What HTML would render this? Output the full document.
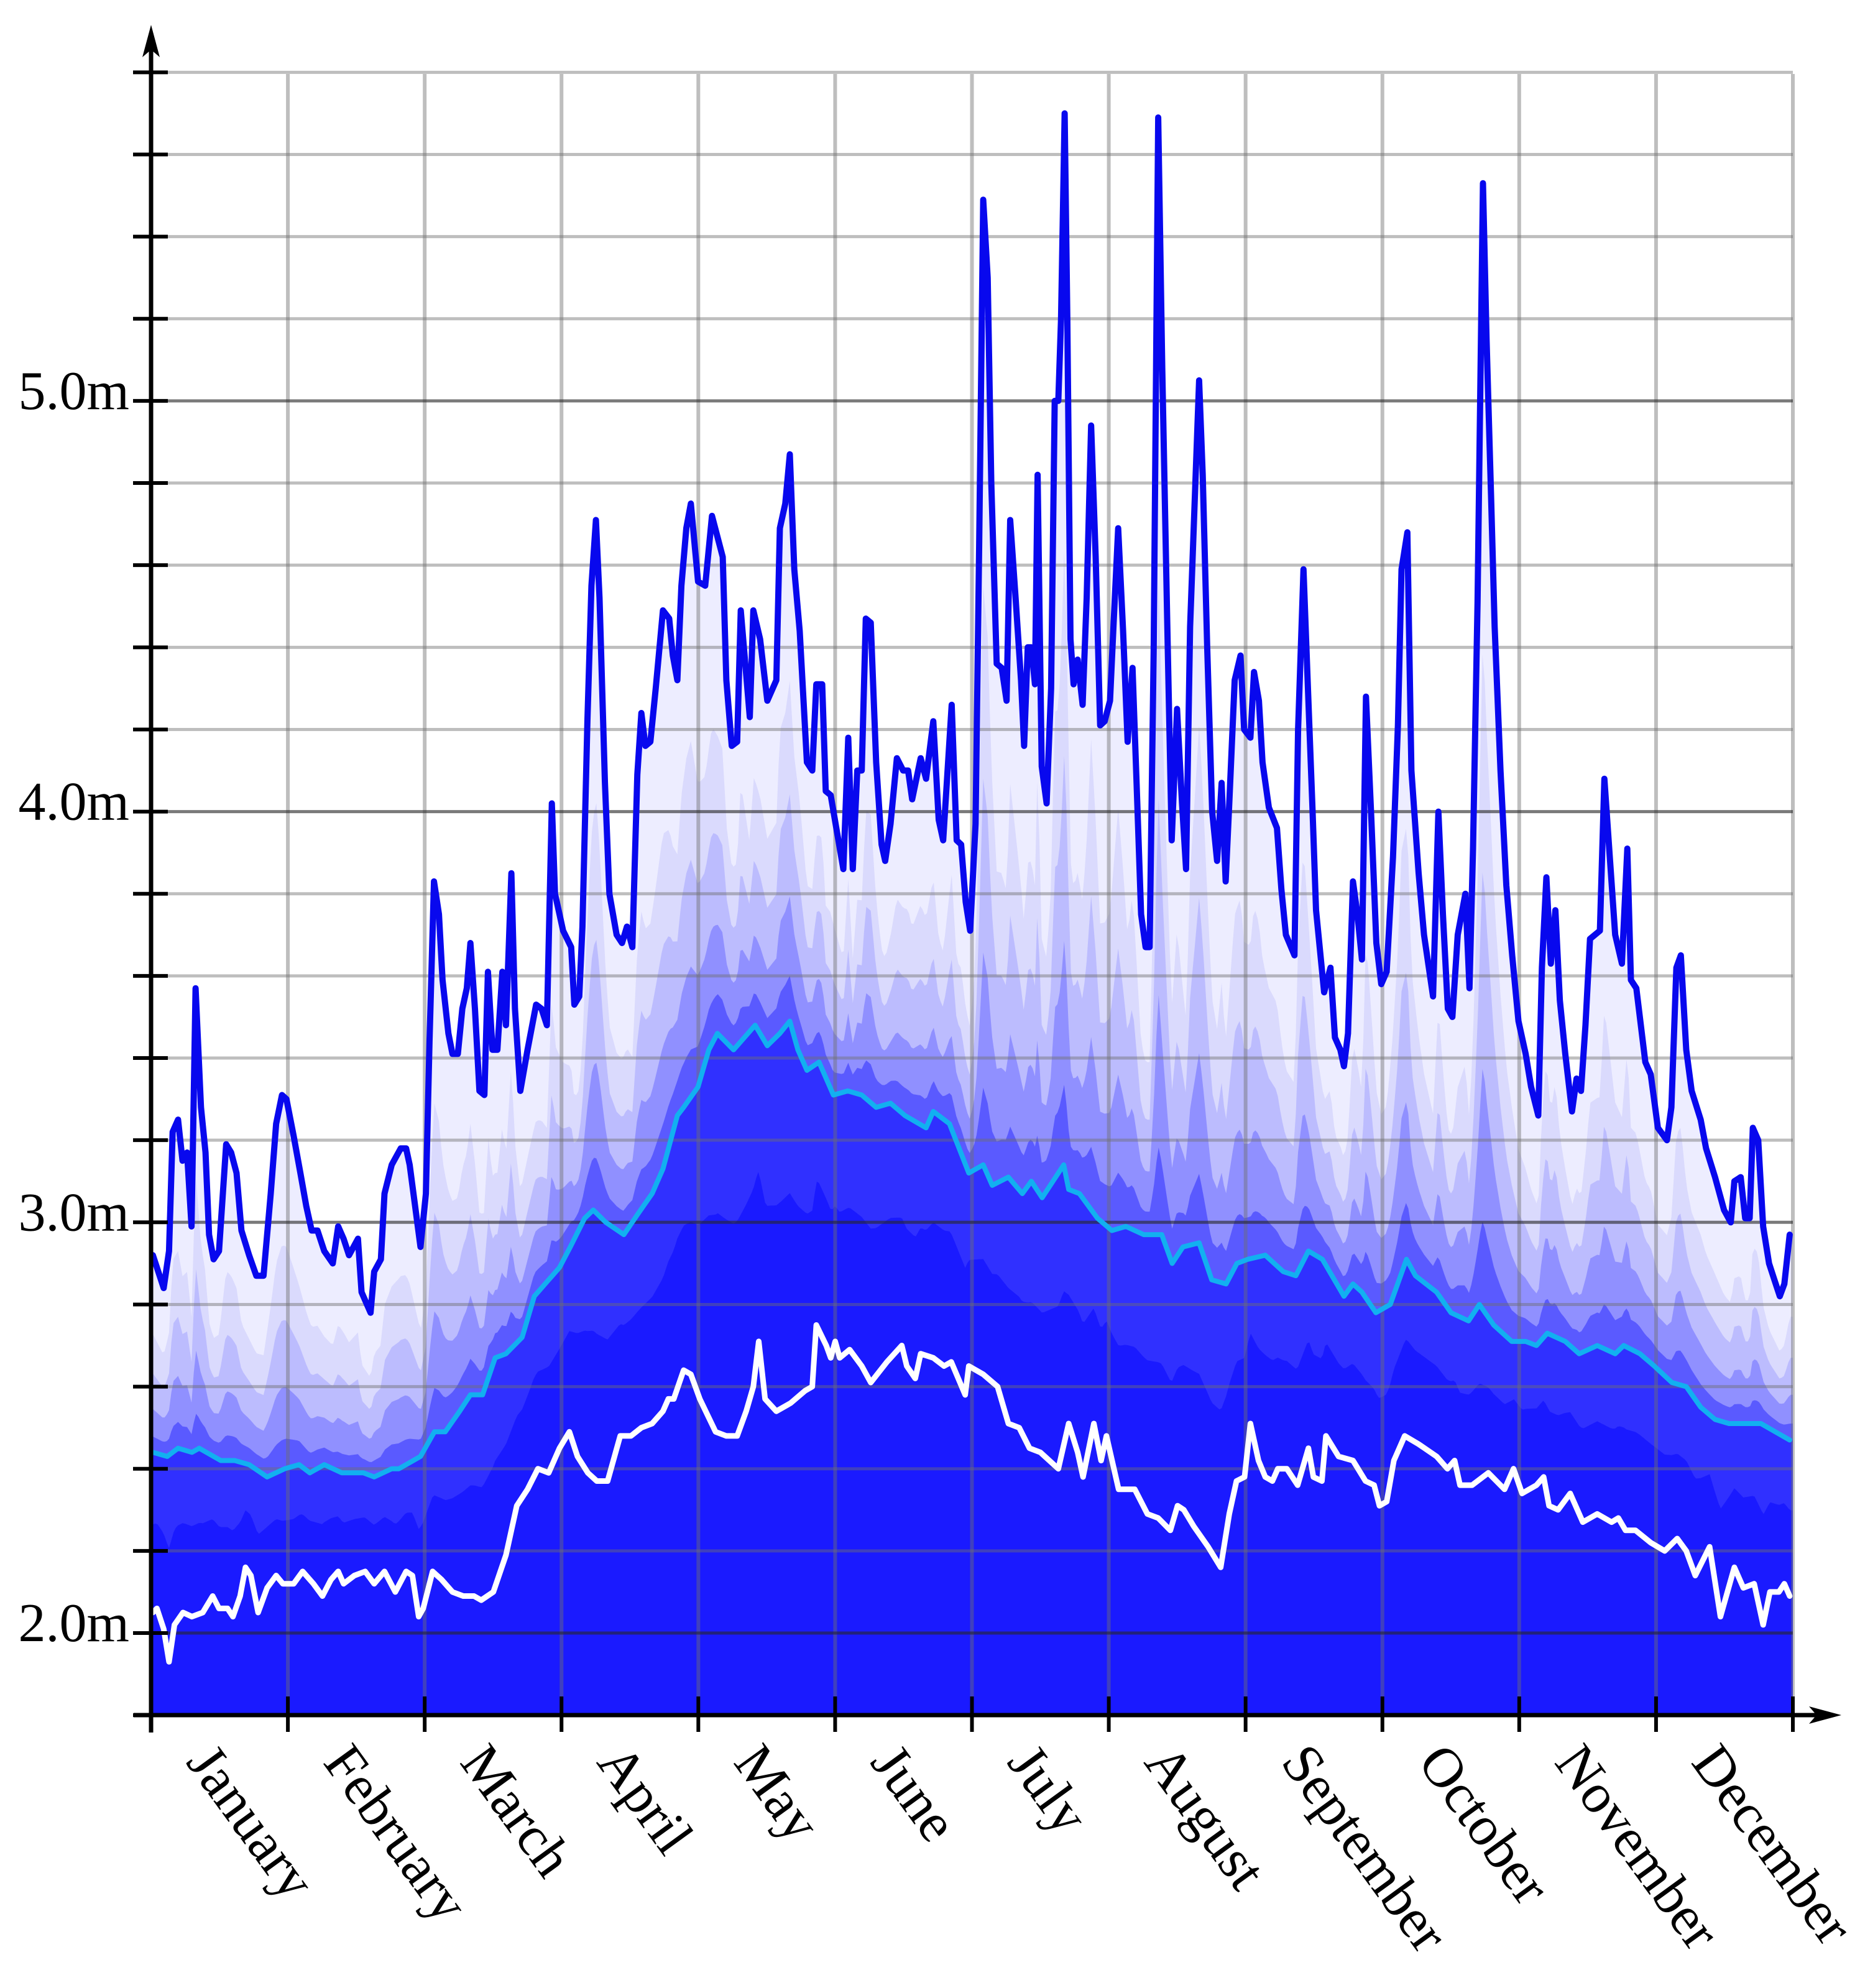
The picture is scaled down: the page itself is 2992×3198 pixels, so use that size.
<!DOCTYPE html>
<html><head><meta charset="utf-8"><title>Daily wave height</title>
<style>html,body{margin:0;padding:0;background:#fff}svg{display:block}</style></head>
<body>
<svg id="chart" xmlns="http://www.w3.org/2000/svg" width="2992" height="3198" viewBox="0 0 2992 3198">
<g id="fills"></g>
<g id="grid"></g>
<g id="series"></g>
<g id="axes"></g>
</svg>
<script>
const months = ["January","February","March","April","May","June","July","August","September","October","November","December"];
const yTickLabels = ["2.0m","3.0m","4.0m","5.0m"];
const yLabelValues = [2,3,4,5];
const maxSeries = [[0.4,2.92],[2.8,2.84],[4,2.93],[4.8,3.22],[6,3.25],[7,3.15],[8,3.17],[9,2.99],[9.9,3.57],[11.1,3.28],[12.1,3.17],[12.9,2.97],[13.9,2.91],[15.1,2.93],[16.7,3.19],[17.8,3.17],[19,3.12],[20.1,2.98],[21.8,2.92],[23.4,2.87],[25,2.87],[26.6,3.07],[27.8,3.24],[29.1,3.31],[30.1,3.30],[31.7,3.21],[33.2,3.12],[34.5,3.04],[35.7,2.98],[37,2.98],[38.5,2.93],[40.4,2.90],[41.6,2.99],[42.8,2.96],[44,2.92],[46,2.96],[46.8,2.83],[48.8,2.78],[49.6,2.88],[51.1,2.91],[51.9,3.07],[53.5,3.14],[55.5,3.18],[56.7,3.18],[57.5,3.14],[58.7,3.04],[59.9,2.94],[61.1,3.07],[61.9,3.44],[62.9,3.83],[64,3.75],[64.8,3.59],[66.1,3.46],[67,3.41],[68.2,3.41],[69.2,3.52],[70.2,3.57],[71,3.68],[72,3.52],[73,3.32],[74.1,3.31],[74.9,3.61],[75.9,3.42],[77,3.42],[78.1,3.61],[78.9,3.48],[80.1,3.85],[80.9,3.52],[82.1,3.32],[83.7,3.42],[85.6,3.53],[86.8,3.52],[88,3.48],[89.1,4.02],[89.8,3.80],[91.6,3.71],[93.4,3.67],[94.1,3.53],[95.2,3.55],[95.9,3.72],[97,4.22],[97.9,4.55],[98.9,4.71],[99.7,4.52],[100.9,4.07],[101.9,3.80],[103.5,3.70],[104.7,3.68],[105.8,3.72],[107,3.67],[108.1,4.09],[109,4.24],[109.9,4.16],[111,4.17],[112.2,4.30],[113.8,4.49],[115.2,4.47],[116,4.38],[117,4.32],[117.9,4.55],[119,4.69],[120,4.75],[121.6,4.56],[123.2,4.55],[124.7,4.72],[127.1,4.62],[127.9,4.32],[129.1,4.16],[130.3,4.17],[131.1,4.49],[133.1,4.23],[133.9,4.49],[135.4,4.42],[137,4.27],[139,4.32],[139.8,4.69],[141,4.75],[142,4.87],[143,4.59],[144.2,4.44],[145.8,4.12],[147,4.10],[147.9,4.31],[149.2,4.31],[150,4.05],[151.1,4.04],[152.5,3.95],[153.9,3.86],[155,4.18],[156,3.86],[157,4.10],[158,4.10],[158.9,4.47],[160,4.46],[161.2,4.12],[162.4,3.92],[163.2,3.88],[164.4,3.97],[165.8,4.13],[167.2,4.10],[168.3,4.10],[169.2,4.03],[171.1,4.13],[172.3,4.08],[173.9,4.22],[175.1,3.98],[176.1,3.93],[178,4.26],[179.1,3.93],[180.1,3.92],[181.1,3.78],[182.1,3.71],[183.3,3.97],[184.1,4.65],[185,5.49],[186,5.30],[186.8,4.80],[188,4.36],[189.1,4.35],[190.2,4.27],[191,4.71],[192.2,4.52],[193.4,4.32],[194.1,4.16],[194.9,4.40],[195.7,4.40],[196.5,4.31],[197.1,4.82],[198,4.11],[199.1,4.02],[200.1,4.30],[200.9,5.00],[201.7,5.00],[202.3,5.20],[203.1,5.70],[203.7,5.20],[204.4,4.42],[205.1,4.31],[206,4.37],[207.1,4.26],[208,4.52],[209,4.94],[210,4.62],[211,4.21],[212,4.22],[213.2,4.27],[214,4.46],[215,4.69],[216.1,4.44],[217.1,4.17],[218.2,4.35],[219.1,4.07],[220.1,3.75],[221.1,3.67],[222,3.67],[222.9,4.39],[223.9,5.69],[224.8,5.08],[225.9,4.47],[226.9,3.93],[228.1,4.25],[229.2,4.02],[230.1,3.86],[231,4.45],[233,5.05],[233.8,4.82],[234.8,4.40],[235.9,4.00],[237,3.88],[238,4.07],[238.9,3.83],[239.7,4.02],[240.9,4.32],[242.2,4.38],[243,4.20],[244.4,4.18],[245.2,4.34],[246.3,4.27],[247.1,4.12],[248.5,4.01],[250.3,3.96],[251.3,3.81],[252.3,3.70],[254.2,3.65],[255,4.20],[256.2,4.59],[257.3,4.27],[258.2,4.01],[259,3.76],[260.8,3.56],[262.2,3.62],[263.2,3.45],[264.4,3.42],[265.2,3.38],[266.1,3.46],[267.2,3.83],[268.2,3.75],[269.2,3.64],[270.1,4.28],[271.3,3.98],[272.4,3.68],[273.5,3.58],[274.7,3.61],[276.1,3.89],[277.2,4.21],[278,4.59],[279.3,4.68],[280.2,4.10],[281.8,3.85],[283,3.70],[285,3.55],[286.2,4.00],[287.2,3.75],[288.3,3.52],[289.3,3.50],[290.5,3.70],[292.2,3.80],[293.1,3.57],[293.9,3.91],[294.9,4.51],[296.1,5.53],[296.9,5.15],[297.9,4.77],[298.7,4.45],[300,4.10],[301.3,3.82],[302.6,3.65],[304,3.49],[305.6,3.41],[306.8,3.33],[308.4,3.26],[309.2,3.62],[310.2,3.84],[311.2,3.63],[312.2,3.76],[313.2,3.54],[314.4,3.41],[315.9,3.27],[316.9,3.35],[317.9,3.32],[318.9,3.48],[319.9,3.69],[322.1,3.71],[323.1,4.08],[324.3,3.89],[325.5,3.70],[327,3.63],[328.2,3.91],[329,3.59],[330.2,3.57],[332.2,3.39],[333.4,3.36],[335,3.23],[337,3.20],[338,3.28],[339.1,3.62],[340.1,3.65],[341.3,3.42],[342.5,3.32],[344.5,3.25],[345.7,3.18],[347.7,3.11],[349.7,3.03],[351.2,3.00],[352,3.10],[353.4,3.11],[354.4,3.01],[355.4,3.01],[356.1,3.23],[357.3,3.20],[358.4,2.99],[359.7,2.90],[360.9,2.86],[362.1,2.82],[363.1,2.85],[364.3,2.97]];
const meanSeries = [[0.4,2.44],[3.6,2.43],[6,2.45],[9.1,2.44],[10.7,2.45],[15.5,2.42],[18.6,2.42],[21.8,2.41],[25.8,2.38],[29.7,2.40],[32.9,2.41],[35.3,2.39],[38.5,2.41],[42.4,2.39],[47.2,2.39],[49.6,2.38],[53.5,2.40],[55.1,2.40],[58.3,2.42],[59.9,2.43],[63,2.49],[65.4,2.49],[68.6,2.54],[71,2.58],[73.7,2.58],[76.5,2.67],[78.9,2.68],[82.5,2.72],[85.2,2.82],[88.4,2.86],[90.8,2.89],[93.2,2.94],[96.4,3.01],[98.3,3.03],[101.1,3.00],[105.1,2.97],[108.2,3.02],[111.4,3.07],[113.8,3.13],[117,3.26],[118.4,3.28],[121.6,3.33],[124,3.42],[125.9,3.46],[129.5,3.42],[132.7,3.46],[134.3,3.48],[137,3.43],[139.8,3.46],[142,3.49],[143.8,3.42],[145.8,3.37],[148.5,3.39],[151.7,3.31],[154.9,3.32],[158,3.31],[161.2,3.28],[164.4,3.29],[167.6,3.26],[172.3,3.23],[173.9,3.27],[177.5,3.24],[181.8,3.12],[185,3.14],[187,3.09],[190.6,3.11],[193.7,3.07],[195.7,3.10],[198.1,3.06],[202.9,3.14],[204,3.08],[206.4,3.07],[210.4,3.01],[213.6,2.98],[216.7,2.99],[220.7,2.97],[224.7,2.97],[227,2.90],[229.4,2.94],[233,2.95],[235.8,2.86],[239,2.85],[241.4,2.90],[243.8,2.91],[247.7,2.92],[251.7,2.88],[254.5,2.87],[257.3,2.93],[260.4,2.91],[265.2,2.82],[267.2,2.85],[269.2,2.83],[272.3,2.78],[275.5,2.80],[279.1,2.91],[281.1,2.87],[285.8,2.83],[289,2.78],[292.9,2.76],[295.3,2.80],[298.5,2.75],[302.5,2.71],[305.6,2.71],[308,2.70],[310.4,2.73],[314.4,2.71],[317.5,2.68],[321.5,2.70],[325.5,2.68],[327.4,2.70],[331,2.68],[334.2,2.65],[338.1,2.61],[341.3,2.60],[344.5,2.55],[347.7,2.52],[350.8,2.51],[354,2.51],[357.9,2.51],[361.1,2.49],[364.3,2.47]];
const minSeries = [[0.4,2.05],[1.3,2.06],[2.8,2.01],[4,1.93],[5.2,2.02],[7.1,2.05],[9.1,2.04],[11.5,2.05],[13.7,2.09],[15.1,2.06],[17,2.06],[18.2,2.04],[19.8,2.09],[21,2.16],[22.2,2.14],[23.8,2.05],[25.8,2.11],[27.8,2.14],[29.3,2.12],[31.7,2.12],[33.7,2.15],[36.1,2.12],[38.1,2.09],[40,2.13],[41.6,2.15],[42.8,2.12],[45.2,2.14],[47.6,2.15],[49.6,2.12],[51.9,2.15],[54.3,2.10],[56.7,2.15],[58.1,2.14],[59.5,2.04],[60.5,2.06],[62.6,2.15],[64.6,2.13],[67,2.10],[69.4,2.09],[71.8,2.09],[73.4,2.08],[76.1,2.10],[78.9,2.19],[81.3,2.31],[83.7,2.35],[86,2.40],[88.4,2.39],[90.8,2.45],[93,2.49],[94.8,2.43],[97.1,2.39],[99.1,2.37],[101.5,2.37],[104.3,2.48],[106.7,2.48],[109,2.50],[111.4,2.51],[113.8,2.54],[115,2.57],[116.2,2.57],[118.4,2.64],[120,2.63],[122,2.57],[125.5,2.49],[127.9,2.48],[130.3,2.48],[132.3,2.54],[133.9,2.60],[135.1,2.71],[136.5,2.57],[139,2.54],[142.2,2.56],[145.4,2.59],[147,2.60],[147.9,2.75],[150.1,2.70],[151.1,2.67],[152.1,2.71],[153.1,2.67],[155.3,2.69],[158,2.65],[160,2.61],[163.6,2.66],[166.9,2.70],[168,2.65],[169.9,2.62],[171.1,2.68],[173.9,2.67],[176.3,2.65],[177.9,2.66],[181,2.58],[181.8,2.65],[185,2.63],[188.2,2.60],[190.6,2.51],[193,2.50],[195.3,2.45],[197.7,2.44],[201.7,2.40],[204,2.51],[206,2.44],[207.2,2.38],[209.6,2.51],[211.2,2.42],[212.4,2.48],[215.1,2.35],[218.7,2.35],[221.5,2.29],[223.9,2.28],[226.6,2.25],[228.2,2.31],[229.6,2.30],[231.8,2.26],[235,2.21],[237.8,2.16],[239.7,2.29],[241.3,2.37],[243.1,2.38],[244.4,2.51],[246.2,2.42],[247.7,2.38],[249.3,2.37],[250.5,2.40],[252.5,2.40],[254.9,2.36],[257.3,2.45],[258.4,2.38],[260.3,2.37],[261.2,2.48],[264,2.43],[267.2,2.42],[270,2.37],[271.9,2.36],[273.1,2.31],[274.7,2.32],[276.3,2.42],[278.7,2.48],[281.8,2.46],[285.8,2.43],[288.2,2.40],[289.8,2.42],[291,2.36],[293.7,2.36],[297.3,2.39],[300.9,2.35],[302.9,2.40],[304.8,2.34],[308,2.36],[309.6,2.38],[310.8,2.31],[312.8,2.30],[315.5,2.34],[318.3,2.27],[321.5,2.29],[324.7,2.27],[326.2,2.28],[327.8,2.25],[330,2.25],[333.4,2.22],[336.5,2.20],[339.3,2.23],[341.3,2.20],[343.3,2.14],[346.5,2.21],[348.9,2.04],[352,2.16],[354,2.11],[356.4,2.12],[358.4,2.02],[359.9,2.10],[361.9,2.10],[363.1,2.12],[364.3,2.09]];

const NS = "http://www.w3.org/2000/svg";
const X0 = 243, X1 = 2884, Y2 = 2627, PXM = 660.7, YBOT = 2759, YTOP = 119;
function xs(d){ return X0 + d * (X1 - X0) / 365; }
function ys(v){ return Y2 - (v - 2) * PXM; }
function mk(tag, attrs, parent){ const e = document.createElementNS(NS, tag); for (const k in attrs) e.setAttribute(k, attrs[k]); parent.appendChild(e); return e; }
function interp(s, d){
  if (d <= s[0][0]) return s[0][1];
  for (let i = 1; i < s.length; i++) if (d <= s[i][0]) { const a = s[i-1], b = s[i]; return a[1] + (b[1]-a[1]) * (d-a[0]) / (b[0]-a[0]); }
  return s[s.length-1][1];
}
const fills = document.getElementById('fills'), grid = document.getElementById('grid'), series = document.getElementById('series'), axes = document.getElementById('axes');

const bands = [
  {name:'band-max', col:'#ededff', f:(mx,mn,lo)=>mx},
  {name:'band-upper', col:'#dadafd', f:(mx,mn,lo)=>mn+0.6*(mx-mn)},
  {name:'band-upper-mid', col:'#bcbcfe', f:(mx,mn,lo)=>mn+0.4*(mx-mn)},
  {name:'band-mid', col:'#9090ff', f:(mx,mn,lo)=>mn+0.22*(mx-mn)},
  {name:'band-low-mid', col:'#5a5aff', f:(mx,mn,lo)=>mn+0.08*(mx-mn)},
  {name:'band-mean', col:'#3030ff', f:(mx,mn,lo)=>mn},
  {name:'band-core', col:'#1a1aff', f:(mx,mn,lo)=>lo+0.55*(mn-lo)}
];
for (const b of bands) {
  let d = 'M' + xs(0) + ',' + YBOT;
  for (let t = 0; t <= 365; t += 0.5) {
    const v = b.f(interp(maxSeries,t), interp(meanSeries,t), interp(minSeries,t));
    d += 'L' + xs(t).toFixed(1) + ',' + ys(v).toFixed(1);
  }
  d += 'L' + xs(365) + ',' + YBOT + 'Z';
  const p = mk('path', {d:d, fill:b.col, stroke:'none'}, fills);
  
  
}

for (let i = 1; i <= 12; i++) {
  const l = mk('line', {x1:xs(i*365/12), x2:xs(i*365/12), y1:YTOP, y2:YBOT, stroke:'rgba(110,110,110,0.45)', 'stroke-width':6}, grid);
  
  
}
for (let k = 1; k <= 20; k++) {
  const v = 1.8 + k*0.2;
  const major = Math.abs(v - Math.round(v)) < 1e-6;
  const l = mk('line', {x1:X0, x2:X1, y1:ys(v), y2:ys(v), stroke: major ? 'rgba(40,40,40,0.62)' : 'rgba(110,110,110,0.45)', 'stroke-width':5}, grid);
  
  
}

function line(s, col, w, name){
  const d = s.map((p,i)=>(i?'L':'M')+xs(p[0]).toFixed(1)+','+ys(p[1]).toFixed(1)).join('');
  const p = mk('path', {d:d, fill:'none', stroke:col, 'stroke-width':w, 'stroke-linejoin':'round', 'stroke-linecap':'round'}, series);
  
  
}
line(minSeries, '#ffffff', 9, 'min-line');
line(meanSeries, '#12b0f0', 8, 'mean-line');
line(maxSeries, '#0808ee', 10, 'max-line');

const ya = mk('line', {x1:X0, x2:X0, y1:YBOT+28, y2:70, stroke:'#000', 'stroke-width':7}, axes);


const yar = mk('path', {d:'M'+X0+',40 L'+(X0-14)+',92 L'+X0+',80 L'+(X0+14)+',92Z', fill:'#000'}, axes);


const xa = mk('line', {x1:X0-28, x2:2930, y1:YBOT, y2:YBOT, stroke:'#000', 'stroke-width':7}, axes);


const xar = mk('path', {d:'M2962,'+YBOT+' L2910,'+(YBOT-14)+' L2922,'+YBOT+' L2910,'+(YBOT+14)+'Z', fill:'#000'}, axes);


for (let k = 0; k <= 20; k++) {
  const v = 1.8 + k*0.2;
  const t = mk('line', {x1:214, x2:270, y1:ys(v), y2:ys(v), stroke:'#000', 'stroke-width':6}, axes);
  
  
}
yLabelValues.forEach((v,i)=>{
  const t = mk('text', {x:208, y:ys(v)+13, 'text-anchor':'end', 'font-family':'"Liberation Serif", serif', 'font-size':88, fill:'#000'}, axes);
  t.textContent = yTickLabels[i];
  
  
});
for (let i = 0; i <= 12; i++) {
  const x = xs(i*365/12);
  const t = mk('line', {x1:x, x2:x, y1:YBOT-30, y2:YBOT+27, stroke:'#000', 'stroke-width':6}, axes);
  
  
}
months.forEach((m,i)=>{
  const x = xs(i*365/12) + 55, y = 2835;
  const t = mk('text', {x:x, y:y, transform:'rotate(54 '+x+' '+y+')', 'font-family':'"Liberation Serif", serif', 'font-size':90, fill:'#000'}, axes);
  t.textContent = m;
  
  
});
</script>
</body></html>
